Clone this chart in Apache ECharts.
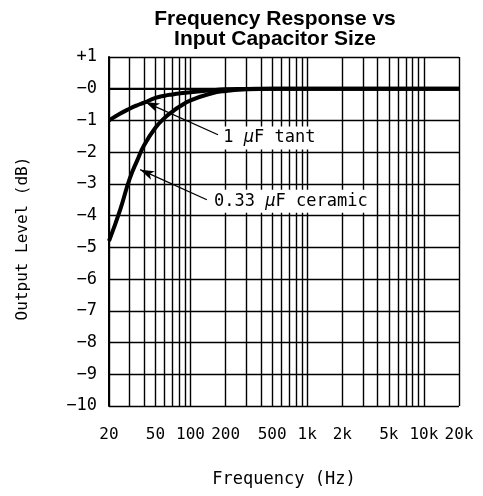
<!DOCTYPE html>
<html>
<head>
<meta charset="utf-8">
<script src="https://cdn.jsdelivr.net/npm/echarts@6/dist/echarts.min.js"></script>
<style>
  html, body { margin: 0; padding: 0; background: #fff; }
  #box { width: 483px; height: 496px; }
</style>
</head>
<body>
<div id="box"></div>
<script>
// data
var freqs = [20, 25, 30, 35, 40, 50, 60, 70, 80, 100, 150, 200, 300, 500, 1000, 2000, 5000, 10000, 20000];
var tantDb = [-1.0, -0.78, -0.63, -0.52, -0.44, -0.29, -0.22, -0.18, -0.15, -0.11, -0.05, -0.02, -0.01, 0, 0, 0, 0, 0, 0];
var ceramicDb = [-4.8, -3.8, -2.85, -2.25, -1.78, -1.23, -0.92, -0.72, -0.57, -0.37, -0.15, -0.07, -0.02, 0, 0, 0, 0, 0, 0];

// grid + tick labels
var xGridFreqs = [20, 30, 40, 50, 60, 70, 80, 90, 100, 200, 300, 400, 500, 600, 700, 800, 900, 1000,
  2000, 3000, 4000, 5000, 6000, 7000, 8000, 9000, 10000, 20000];
var xLabelFreqs = [20, 50, 100, 200, 500, 1000, 2000, 5000, 10000, 20000];
var xTickLabels = ['20', '50', '100', '200', '500', '1k', '2k', '5k', '10k', '20k'];
var yTickValues = [1, 0, -1, -2, -3, -4, -5, -6, -7, -8, -9, -10];
var yTickLabels = ['+1', '\u22120', '\u22121', '\u22122', '\u22123', '\u22124', '\u22125', '\u22126', '\u22127', '\u22128', '\u22129', '\u221210'];

var font = 'DejaVu Sans Mono';
var myChart = echarts.init(document.getElementById('box'));

function pairs(ys) {
  return freqs.map(function (f, i) { return [f, ys[i]]; });
}

var arrowHead = { symbol: 'arrow', symbolSize: [7, 14] };
var noteLabel = {
  show: true, position: 'right', distance: 0,
  color: '#000', fontFamily: font, fontSize: 17,
  backgroundColor: '#fff', padding: [3, 3],
  rich: { i: { fontStyle: 'italic', fontFamily: font, fontSize: 17, color: '#000' } }
};

var option = {
  animation: false,
  title: {
    text: 'Frequency Response vs\nInput Capacitor Size',
    left: 270, top: 4, textAlign: 'center',
    textStyle: { fontFamily: 'Liberation Sans', fontWeight: 'bold', fontSize: 21, lineHeight: 20, color: '#000' }
  },
  grid: { left: 109, right: 24, top: 57, bottom: 90 },
  xAxis: {
    type: 'log', logBase: 10, min: 20, max: 20000,
    name: 'Frequency (Hz)', nameLocation: 'middle', nameGap: 65,
    nameTextStyle: { fontFamily: font, fontSize: 17, color: '#000' },
    axisLine: { show: true, lineStyle: { color: '#000', width: 2 } },
    axisTick: { show: false, customValues: xGridFreqs },
    axisLabel: {
      customValues: xLabelFreqs, margin: 21,
      fontFamily: font, fontSize: 16, color: '#000',
      formatter: function (v) { return xTickLabels[xLabelFreqs.indexOf(Math.round(v))]; }
    },
    splitLine: { show: true, lineStyle: { color: '#000', width: 1.4 } }
  },
  yAxis: {
    type: 'value', min: -10, max: 1, interval: 1,
    name: 'Output Level (dB)', nameLocation: 'middle', nameGap: 78, nameRotate: 90,
    nameTextStyle: { fontFamily: font, fontSize: 16, color: '#000', padding: [0, 0, 0, -14] },
    axisLine: { show: true, lineStyle: { color: '#000', width: 2 } },
    axisTick: { show: false },
    axisLabel: {
      margin: 12, fontFamily: font, fontSize: 17, color: '#000',
      formatter: function (v) { return yTickLabels[yTickValues.indexOf(v)]; }
    },
    splitLine: { show: true, lineStyle: { color: '#000', width: 1.4 } }
  },
  series: [
    {
      name: '1 uF tant', type: 'line', smooth: true, showSymbol: false,
      data: pairs(tantDb),
      lineStyle: { color: '#000', width: 4 },
      markLine: {
        silent: true, symbol: ['arrow', 'none'], symbolSize: [[7, 14], 0],
        lineStyle: { color: '#000', width: 1.3, type: 'solid' }, label: { show: false },
        data: [[Object.assign({ coord: [41, -0.42] }, arrowHead), { coord: [172, -1.45], symbol: 'none' }]]
      },
      markPoint: {
        silent: true, symbol: 'circle', symbolSize: 0,
        label: Object.assign({}, noteLabel, { formatter: '1 {i|\u00b5}F tant' }),
        data: [{ coord: [180, -1.55] }]
      }
    },
    {
      name: '0.33 uF ceramic', type: 'line', smooth: true, showSymbol: false,
      data: pairs(ceramicDb),
      lineStyle: { color: '#000', width: 4 },
      markLine: {
        silent: true, symbol: ['arrow', 'none'], symbolSize: [[7, 14], 0],
        lineStyle: { color: '#000', width: 1.3, type: 'solid' }, label: { show: false },
        data: [[Object.assign({ coord: [37, -2.55] }, arrowHead), { coord: [138, -3.5], symbol: 'none' }]]
      },
      markPoint: {
        silent: true, symbol: 'circle', symbolSize: 0,
        label: Object.assign({}, noteLabel, { formatter: '0.33 {i|\u00b5}F ceramic' }),
        data: [{ coord: [150, -3.55] }]
      }
    }
  ]
};

myChart.setOption(option);
</script>
</body>
</html>
